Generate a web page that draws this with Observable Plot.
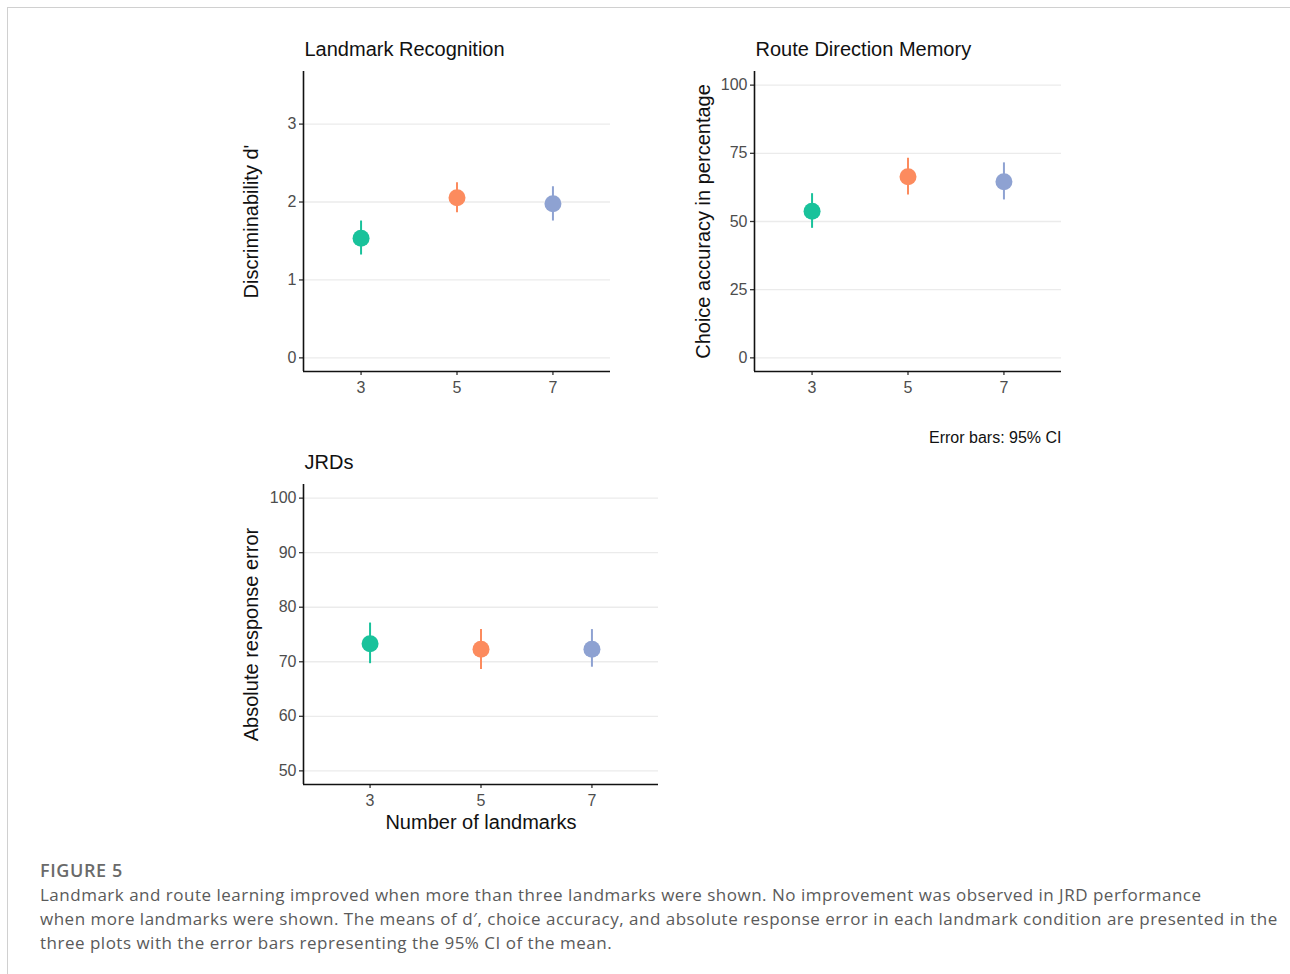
<!DOCTYPE html>
<html>
<head>
<meta charset="utf-8">
<script src="https://cdn.jsdelivr.net/npm/d3@7"></script>
<script src="https://cdn.jsdelivr.net/npm/@observablehq/plot@0.6"></script>
<style>
  html, body { margin: 0; padding: 0; background: #fff; }
  body { width: 1290px; height: 974px; position: relative; overflow: hidden; }
  #border { position: absolute; left: 7px; top: 7px; right: -5px; bottom: -5px;
            border-top: 1.5px solid #d0d0d0; border-left: 1.5px solid #d0d0d0; }
  .panel { position: absolute; }
  #caption { position: absolute; left: 40px; top: 857px; width: 1245px;
             font-family: "Open Sans", sans-serif; color: #5a5a5a; }
  #caption .fig { font-size: 18px; font-weight: 600; color: #6a6a6a; line-height: 26px; letter-spacing: 0.6px; }
  #caption .txt { font-size: 17px; line-height: 24px; letter-spacing: 0.5px; }
  #caption .txt span { display: block; white-space: nowrap; }
</style>
</head>
<body>
<div id="border"></div>
<div id="p1" class="panel" style="left:230px; top:20px;"></div>
<div id="p2" class="panel" style="left:680px; top:20px;"></div>
<div id="p3" class="panel" style="left:230px; top:440px;"></div>
<div id="caption">
  <div class="fig">FIGURE 5</div>
  <div class="txt"><span>Landmark and route learning improved when more than three landmarks were shown. No improvement was observed in JRD performance</span><span>when more landmarks were shown. The means of d′, choice accuracy, and absolute response error in each landmark condition are presented in the</span><span>three plots with the error bars representing the 95% CI of the mean.</span></div>
</div>
<script>
// ---- data ----
const landmarks = [3, 5, 7];
const pointColors = ["#19c29b", "#fc8b5e", "#8ea2d2"];

const recogMean = [1.535, 2.055, 1.978];
const recogLo   = [1.32, 1.863, 1.756];
const recogHi   = [1.756, 2.247, 2.196];
const recogTicks = [0, 1, 2, 3];

const routeMean = [53.8, 66.4, 64.6];
const routeLo   = [47.5, 59.7, 57.9];
const routeHi   = [60.2, 73.2, 71.5];
const routeTicks = [0, 25, 50, 75, 100];

const jrdMean = [73.3, 72.3, 72.3];
const jrdLo   = [69.65, 68.6, 69.0];
const jrdHi   = [77.1, 75.9, 75.9];
const jrdTicks = [50, 60, 70, 80, 90, 100];

const FONT = "'Liberation Sans', Arial, sans-serif";

function rows(mean, lo, hi) {
  return landmarks.map((n, i) => ({n, mean: mean[i], lo: lo[i], hi: hi[i]}));
}

function panel(cfg) {
  const data = rows(cfg.mean, cfg.lo, cfg.hi);
  const [a, b] = cfg.limits;
  const pad = (b - a) * 0.05;
  // discrete-style x: 0.6 step padding on either side (step = 2 landmarks)
  const xPad = 0.6 * (landmarks[1] - landmarks[0]);
  const xDomain = [landmarks[0] - xPad, landmarks[landmarks.length - 1] + xPad];
  const yDomain = [a - pad, b + pad];
  const marks = [
    Plot.gridY(cfg.ticks, {stroke: "#ebebeb", strokeOpacity: 1, strokeWidth: 1.3}),
    Plot.axisY(cfg.ticks, {tickSize: 4, tickPadding: 3, stroke: "#333", strokeWidth: 1.3,
                           fontSize: 16, color: "#4d4d4d", label: null, tickFormat: d => String(d)}),
    Plot.axisX(landmarks, {tickSize: 4, tickPadding: 6, stroke: "#333", strokeWidth: 1.3,
                fontSize: 16, color: "#4d4d4d", label: null, tickFormat: d => String(d)}),
    Plot.ruleX([xDomain[0]], {stroke: "#111", strokeWidth: 1.6}),
    Plot.ruleY([yDomain[0]], {stroke: "#111", strokeWidth: 1.6}),
    Plot.ruleX(data, {x: "n", y1: "lo", y2: "hi", stroke: "n", strokeWidth: 2}),
    Plot.dot(data, {x: "n", y: "mean", r: 8.5, fill: "n", stroke: null}),
    Plot.text([cfg.title], {text: d => d, frameAnchor: "top-left", textAnchor: "start", lineAnchor: "middle",
                            dy: -22, dx: 1, fontSize: 20, fill: "#111"}),
    Plot.text([cfg.ylabel], {text: d => d, frameAnchor: "left", textAnchor: "middle", lineAnchor: "middle",
                             rotate: -90, dx: cfg.ylabelDx, fontSize: 20, fill: "#111"})
  ];
  if (cfg.xlabel) marks.push(Plot.text([cfg.xlabel], {text: d => d, frameAnchor: "bottom", textAnchor: "middle",
                                       lineAnchor: "middle", dy: 38, fontSize: 20, fill: "#111"}));
  if (cfg.note) marks.push(Plot.text([cfg.note], {text: d => d, frameAnchor: "bottom-right", textAnchor: "end",
                                     lineAnchor: "middle", dy: 66, fontSize: 16, fill: "#111"}));
  return Plot.plot({
    width: cfg.width, height: cfg.height,
    marginLeft: cfg.ml, marginTop: cfg.mt, marginRight: cfg.mr, marginBottom: cfg.mb,
    style: {fontFamily: FONT, background: "transparent", overflow: "visible"},
    x: {type: "linear", domain: xDomain, label: null},
    y: {domain: yDomain, label: null},
    color: {type: "ordinal", domain: landmarks, range: pointColors},
    marks
  });
}

document.getElementById("p1").append(panel({
  title: "Landmark Recognition", ylabel: "Discriminability d'", ylabelDx: -52,
  mean: recogMean, lo: recogLo, hi: recogHi, ticks: recogTicks, limits: [0, 3.5],
  width: 400, height: 400, ml: 73, mt: 51, mr: 20, mb: 49
}));
document.getElementById("p2").append(panel({
  title: "Route Direction Memory", ylabel: "Choice accuracy in percentage", ylabelDx: -51,
  mean: routeMean, lo: routeLo, hi: routeHi, ticks: routeTicks, limits: [0, 100],
  note: "Error bars: 95% CI",
  width: 400, height: 440, ml: 74, mt: 51, mr: 19, mb: 89
}));
document.getElementById("p3").append(panel({
  title: "JRDs", ylabel: "Absolute response error", ylabelDx: -52, xlabel: "Number of landmarks",
  mean: jrdMean, lo: jrdLo, hi: jrdHi, ticks: jrdTicks, limits: [50, 100],
  width: 450, height: 400, ml: 73, mt: 44, mr: 22, mb: 56
}));
</script>
</body>
</html>
